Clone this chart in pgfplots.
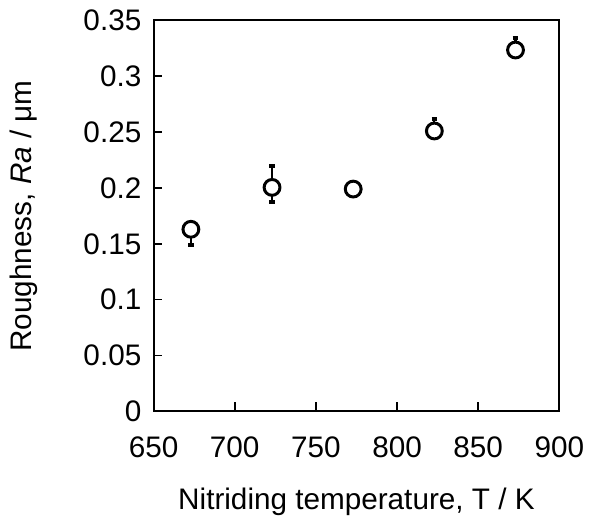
\documentclass[border=0pt]{standalone}
\usepackage{pgfplots}
\pgfplotsset{compat=1.18}
\usepackage{fontspec}
\setmainfont{Liberation Sans}
\begin{document}
\fontsize{15}{18}\selectfont
\begin{tikzpicture}
\begin{axis}[
  scale only axis,
  width=205pt, height=197.5pt,
  xmin=650, xmax=900, ymin=0, ymax=0.35,
  xtick={650,700,...,900},
  ytick={0,0.05,...,0.35},
  yticklabels={0,0.05,0.1,0.15,0.2,0.25,0.3,0.35},
  tick align=inside,
  xtick pos=bottom, ytick pos=left,
  major tick length=4.5pt,
  axis line style={line width=1pt},
  every tick/.style={line width=0.8pt, black},
  /pgf/number format/assume math mode=true,
  /pgf/number format/1000 sep={},
  ticklabel style={font=\fontsize{15}{18}\selectfont},
  xticklabel style={yshift=-7.5pt},
  yticklabel style={xshift=-1pt},
  xlabel={Nitriding temperature, T / K},
  ylabel={Roughness, \textit{Ra} / μm},
  label style={font=\fontsize{15}{18}\selectfont},
  xlabel style={yshift=-5pt},
  ylabel style={yshift=13pt},
]
\addplot[only marks, mark=none, draw=none, black,
  error bars/.cd, y dir=both, y explicit,
  error bar style={line width=1.1pt, black},
  error mark options={rotate=90, line width=1.8pt, mark size=1.4pt, black}]
coordinates {
  (673,0.163) += (0,0) -= (0,0.014)
  (723,0.2005) += (0,0.019) -= (0,0.013)
  (773,0.199) += (0,0.004) -= (0,0.004)
  (823,0.251) += (0,0.0105) -= (0,0)
  (873,0.3235) += (0,0.0105) -= (0,0)
};
\addplot[only marks, mark=*, mark size=4pt, black,
  mark options={fill=white, draw=black, line width=1.5pt}]
coordinates {
  (673,0.163) (723,0.2005) (773,0.199) (823,0.251) (873,0.3235)
};
\end{axis}
\end{tikzpicture}
\end{document}
